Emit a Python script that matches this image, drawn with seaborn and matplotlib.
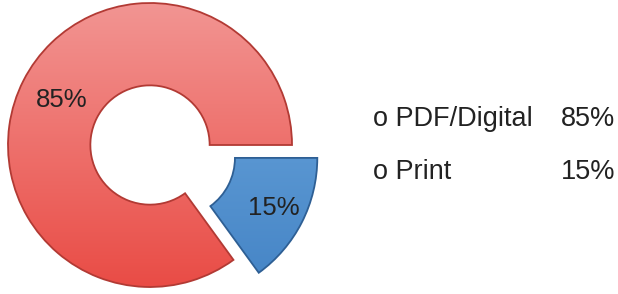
import numpy as np
import matplotlib
matplotlib.use('Agg')
import matplotlib.pyplot as plt
import seaborn as sns

# data
labels = ['PDF/Digital', 'Print']
shares = [85, 15]
explode = [0.0, 0.2]
top_colors = ['#F39C9A', '#74AEE2']
bottom_colors = ['#E8413A', '#3F7FC2']
edge_colors = ['#B23A34', '#2E5F94']

sns.set_theme(style='white')
plt.rcParams['font.family'] = ['Liberation Sans', 'DejaVu Sans']

fig = plt.figure(figsize=(6.18, 2.94), dpi=100)
ax = fig.add_axes([0, 0, 330 / 618, 1])

wedges, texts, autotexts = ax.pie(
    shares, explode=explode, startangle=0, counterclock=True,
    autopct='%d%%', pctdistance=0.7,
    wedgeprops=dict(width=0.58, linewidth=1.3),
    textprops=dict(fontsize=18.5, color='#222222'))

# gradient fill clipped to each wedge for the shaded look
for w, c_top, c_bot, ec in zip(wedges, top_colors, bottom_colors, edge_colors):
    w.set_facecolor('none')
    w.set_edgecolor(ec)
    w.set_zorder(3)
    cmap = matplotlib.colors.LinearSegmentedColormap.from_list('g', [c_bot, c_top])
    grad = np.linspace(0, 1, 256).reshape(-1, 1)
    im = ax.imshow(grad, cmap=cmap, origin='lower', aspect='auto',
                   extent=(-1.3, 1.5, -1.3, 1.2), zorder=2)
    im.set_clip_path(w)

# push the print label outward a little within its exploded wedge
x, y = autotexts[1].get_position()
autotexts[1].set_position((x * 1.09, y * 1.09))
for t in autotexts:
    t.set_zorder(5)

ax.set_aspect('auto')
ax.set_xlim(-150 / 142, 180 / 142)
ax.set_ylim(-149 / 142, 145 / 142)
ax.axis('off')

# legend text block on the right
for i, (lab, val) in enumerate(zip(labels, shares)):
    yy = 1 - (126 + 53 * i) / 294
    fig.text(373 / 618, yy, 'o ' + lab, fontsize=19.5, color='#222222',
             ha='left', va='baseline')
    fig.text(615 / 618, yy, f'{val}%', fontsize=19.5, color='#222222',
             ha='right', va='baseline')

fig.savefig('out.png', dpi=100)
